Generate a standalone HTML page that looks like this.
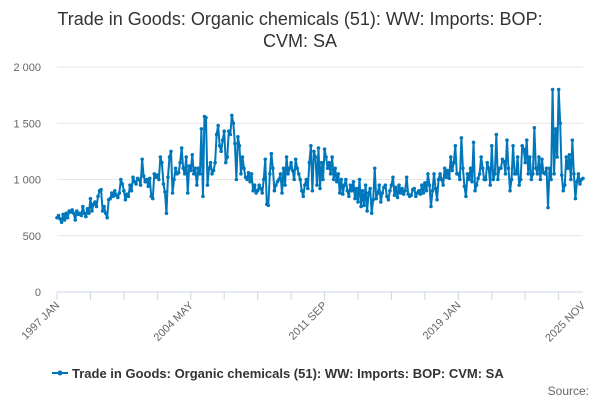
<!DOCTYPE html>
<html><head><meta charset="utf-8"><style>
body{margin:0;width:600px;height:400px;background:#fff;overflow:hidden;font-family:"Liberation Sans",sans-serif}
</style></head><body>
<svg id="c" width="600" height="400" xmlns="http://www.w3.org/2000/svg">
<text x="300" y="25" text-anchor="middle" font-size="18" fill="#333">Trade in Goods: Organic chemicals (51): WW: Imports: BOP:</text>
<text x="300" y="47" text-anchor="middle" font-size="18" fill="#333">CVM: SA</text>
<g id="grid"></g><g id="xax"></g><g id="series"></g>
<g>
<line x1="52" y1="373" x2="68" y2="373" stroke="#0077bb" stroke-width="2"/>
<circle cx="60" cy="373" r="2.5" fill="#0077bb"/>
<text x="72" y="378" font-size="13" font-weight="bold" fill="#333">Trade in Goods: Organic chemicals (51): WW: Imports: BOP: CVM: SA</text>
</g>
<text x="589" y="395" font-size="12" fill="#666" text-anchor="end">Source:</text>
</svg>
<script>
const yTicks=[0,500,1000,1500,2000];
const yTickLabels=["0","500","1 000","1 500","2 000"];
const xTickIdx=[0,88,176,264,346];
const xTickLabels=["1997 JAN","2004 MAY","2011 SEP","2019 JAN","2025 NOV"];
const values=[
660,680,650,620,690,640,700,660,720,710,730,700,
640,720,690,700,680,760,700,670,740,700,830,720,
780,800,760,850,900,910,720,760,700,660,820,830,
880,850,900,860,840,880,1000,960,900,820,870,850,
950,900,1020,980,960,1010,1000,950,1180,1030,980,1000,
940,1010,850,830,1050,1020,1040,1000,1200,1150,960,890,
700,1020,1200,1250,880,1000,1100,1050,1060,1150,1280,1100,
1050,1200,880,1120,1080,1220,1050,1100,950,1100,1050,1450,
850,1560,1550,950,1100,1150,1050,1080,1150,1400,1480,1300,
1250,1350,1430,1150,1200,1430,1400,1570,1500,1320,1000,1380,
1300,1050,1200,1100,1020,1000,1060,980,1050,900,950,880,
900,950,920,880,1000,1180,780,770,1050,1230,1100,900,
950,980,1000,1050,880,1100,950,1200,1050,1100,1150,1080,
1000,1180,1100,1050,1000,900,850,950,1000,920,1150,1300,
900,1250,1200,950,1280,920,1150,1000,1270,1200,1100,1150,
1050,1200,1000,1100,980,1050,880,1000,870,950,1000,900,
850,950,900,980,830,920,800,1000,760,900,770,950,
720,880,920,700,820,1100,830,880,950,800,880,930,
950,850,820,900,950,1020,860,930,840,950,880,920,
870,900,1020,870,850,860,910,920,850,880,900,870,
950,880,970,900,1050,950,760,900,1050,920,820,1000,
1050,1000,950,1100,1020,1080,1010,1200,1080,1150,1300,1050,
1050,1000,1370,1100,940,850,1050,1000,1100,980,1330,900,
950,1010,1050,1200,1100,1000,1000,1150,1100,950,1300,1000,
1050,1400,1000,1100,1100,1180,1160,1050,1350,1100,900,1000,
1300,1050,1050,1200,950,1000,1300,1270,1150,1350,1050,1200,
1000,1050,1460,1100,1050,1200,1000,1180,1060,1050,1100,750,
1100,1000,1800,1050,1450,1200,1800,1500,1040,900,950,1200,
1100,1220,1000,1350,1050,830,980,1050,960,1000,1010];
const X0=57,X1=583,Y0=292,Y1=67,N=values.length;
const x=i=>X0+i*(X1-X0)/(N-1);
const y=v=>Y0-v*(Y0-Y1)/2000;
const NS="http://www.w3.org/2000/svg";
function mk(t,a,p){const e=document.createElementNS(NS,t);for(const k in a)e.setAttribute(k,a[k]);p.appendChild(e);return e;}
const grid=document.getElementById('grid'),xax=document.getElementById('xax'),ser=document.getElementById('series');
yTicks.forEach((v,i)=>{
 const l=mk('line',{x1:X0,x2:X1,y1:y(v),y2:y(v),stroke:v===0?'#ccd6eb':'#e6e6e6','stroke-width':1},grid);
 
 
 const t=mk('text',{x:41,y:y(v)+4,'text-anchor':'end','font-size':11,fill:'#666'},grid);
 t.textContent=yTickLabels[i];
 
 
});
for(let i=0;i<N;i+=22){const tk=mk('line',{x1:x(i),x2:x(i),y1:Y0,y2:Y0+8,stroke:'#ccd6eb'},xax);
 
 }
xTickIdx.forEach((idx,i)=>{
 const px=x(idx),t=mk('text',{x:px+3,y:Y0+14,'text-anchor':'end','font-size':11,fill:'#666',transform:`rotate(-45 ${px+3} ${Y0+14})`},xax);
 t.textContent=xTickLabels[i];
 
 
});
const p=mk('polyline',{points:values.map((v,i)=>x(i)+','+y(v)).join(' '),fill:'none',stroke:'#0077bb','stroke-width':2,'stroke-linejoin':'round'},ser);


values.forEach((v,i)=>{const c=mk('circle',{cx:x(i),cy:y(v),r:1.8,fill:'#0077bb'},ser);
 
 });
</script>
</body></html>
